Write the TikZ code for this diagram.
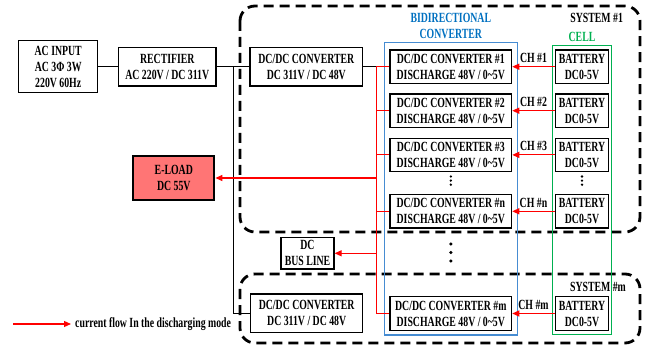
\documentclass[tikz,border=0pt]{standalone}
\usepackage{fontspec}
\setmainfont[FakeStretch=0.7]{Liberation Serif}
\usetikzlibrary{arrows.meta,calc}
\definecolor{myred}{RGB}{255,0,0}
\definecolor{loadfill}{RGB}{255,117,117}
\definecolor{myblue}{RGB}{0,112,192}
\definecolor{boxblue}{RGB}{70,140,210}
\definecolor{mygreen}{RGB}{0,176,80}
\begin{document}
\begin{tikzpicture}[x=1pt,y=-1pt,
  every node/.style={font=\fontsize{14}{16}\selectfont\bfseries, inner sep=0pt, align=center},
  blk/.style={draw=black, line width=1.2pt, minimum height=#1},
  blk/.default=33.3pt,
  conv/.style={blk, minimum width=121.7pt},
  batt/.style={blk, minimum width=53.4pt},
  sysbox/.style={draw=black, line width=2.8pt, dash pattern=on 10pt off 6pt, rounded corners=15pt},
  redarrow/.style={draw=myred, line width=1.2pt, -{Triangle[length=7pt,width=6pt]}},
  redline/.style={draw=myred, line width=1.2pt},
  wire/.style={draw=black, line width=1pt},
  dotn/.style={circle, fill=black, minimum size=3.2pt, inner sep=0pt}
]
\useasboundingbox (0,0) rectangle (649,345);

% system dashed boxes
\draw[sysbox] (240,6) rectangle (640,232);
\draw[sysbox] (240,274) rectangle (640,343);

% blue and green group boxes
\draw[boxblue, line width=1.1pt] (384.3,42.3) rectangle (517.3,335);
\draw[mygreen, line width=1.1pt] (552.3,45.7) rectangle (611.7,334.3);

% labels
\node[text=myblue] (bidir) at (450.8,25.5) {BIDIRECTIONAL\\CONVERTER};
\node (sys1) at (596.7,18.3) {SYSTEM \#1};
\node[text=mygreen] (cell) at (582,36.7) {CELL};
\node (sysm) at (598,287) {SYSTEM \#m};

% left chain
\node[blk=52pt, minimum width=79pt] (ac) at (58.2,66.7) {AC INPUT\\AC 3Φ 3W\\220V 60Hz};
\node[blk=38.7pt, minimum width=97.3pt] (rect) at (167.3,66.7) {RECTIFIER\\AC 220V / DC 311V};
\node[blk=38.7pt, minimum width=112.7pt] (dc1) at (306.3,66.7) {DC/DC CONVERTER\\DC 311V / DC 48V};
\node[blk=38.7pt, minimum width=112pt] (dcm) at (306.7,313.3) {DC/DC CONVERTER\\DC 311V / DC 48V};
\node[draw=black, line width=2.2pt, fill=loadfill, minimum width=81pt, minimum height=44pt] (eload) at (173.8,178) {E-LOAD\\DC 55V};
\node[blk=31.3pt, minimum width=53pt] (bus) at (307.5,253.3) {DC\\BUS LINE};

% converters
\node[conv] (c1) at (450.8,66.7) {DC/DC CONVERTER \#1\\DISCHARGE 48V / 0\char`~5V};
\node[conv] (c2) at (450.8,110.7) {DC/DC CONVERTER \#2\\DISCHARGE 48V / 0\char`~5V};
\node[conv] (c3) at (450.8,154.9) {DC/DC CONVERTER \#3\\DISCHARGE 48V / 0\char`~5V};
\node[conv] (cn) at (450.8,211.3) {DC/DC CONVERTER \#n\\DISCHARGE 48V / 0\char`~5V};
\node[conv] (cm) at (450.8,313.5) {DC/DC CONVERTER \#m\\DISCHARGE 48V / 0\char`~5V};

% batteries
\node[batt] (b1) at (582,66.7) {BATTERY\\DC0-5V};
\node[batt] (b2) at (582,110.7) {BATTERY\\DC0-5V};
\node[batt] (b3) at (582,154.9) {BATTERY\\DC0-5V};
\node[batt] (bn) at (582,211.3) {BATTERY\\DC0-5V};
\node[batt] (bm) at (582,313.5) {BATTERY\\DC0-5V};

% channel arrows
\foreach \b/\c/\l in {b1/c1/1, b2/c2/2, b3/c3/3, bn/cn/n, bm/cm/m}{
  \draw[redarrow] (\b.west) -- (\c.east);
  \node (ch\l) at ($(\c.east)!0.5!(\b.west)+(0,-8.5)$) {CH \#\l};
}

% black wiring
\coordinate (bus1) at (233.3,66.7);
\coordinate (bus2) at (233.3,313.3);
\coordinate (rj) at (376.3,66.7);
\draw[wire] (ac.east) -- (rect.west);
\draw[wire] (rect.east) -- (dc1.west);
\draw[wire] (bus1) -- (bus2) -- (dcm.west);
\draw[wire] (dc1.east) -- (rj);

% red distribution line
\coordinate (rbot) at (376.3,313.5);
\draw[redline] (rj) -- (rbot);
\foreach \c in {c1,c2,c3,cn,cm}{
  \draw[redline] (376.3,0 |- \c.west) -- (\c.west);
}
\draw[redarrow] (376.3,178) -- (eload.east);
\draw[redarrow] (376.3,253.3) -- (bus.east);

% dots
\foreach \y in {176.5,180.6,184.7}{
  \node[dotn, minimum size=2.6pt] at (450.8,\y) {};
  \node[dotn, minimum size=2.6pt] at (582,\y) {};
}
\foreach \y in {244,252.5,261}{
  \node[dotn, minimum size=3.4pt] at (450.8,\y) {};
}

% legend
\coordinate (lg1) at (13,324);
\coordinate (lg2) at (71,324);
\draw[redarrow] (lg1) -- (lg2);
\node[anchor=west] (legend) at (75,324.5) {current flow In the discharging mode};
\end{tikzpicture}
\end{document}
